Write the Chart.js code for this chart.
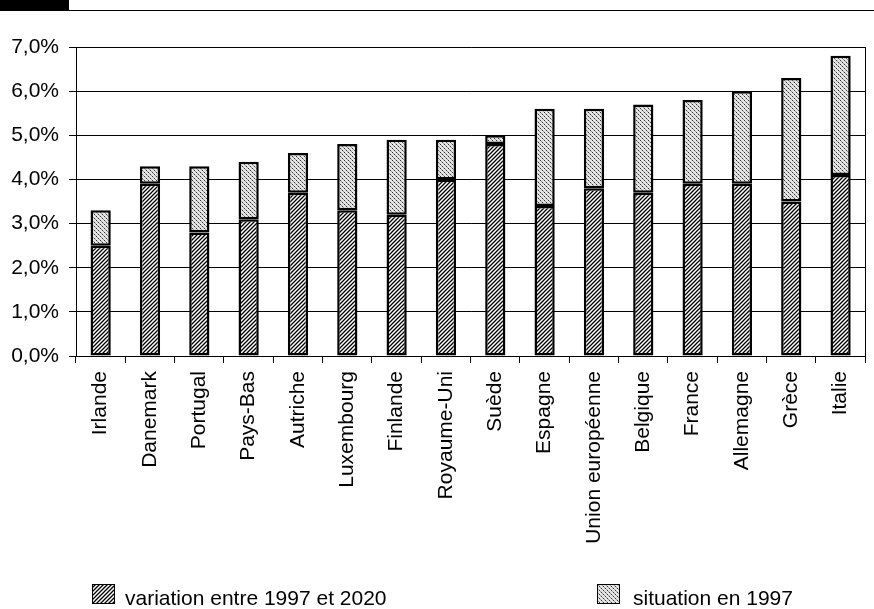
<!DOCTYPE html>
<html>
<head>
<meta charset="utf-8">
<script src="https://cdn.jsdelivr.net/npm/chart.js@4.4.1/dist/chart.umd.min.js"></script>
<style>
  body { margin: 0; background: #fff; font-family: "Liberation Sans", Arial, sans-serif; }
  #wrap { position: relative; width: 874px; height: 609px; }
  #block { position: absolute; left: 0; top: 0; width: 69px; height: 11px; background: #000; }
  #rule { position: absolute; left: 69px; top: 10px; width: 805px; height: 1px; background: #000; }
  .leg { position: absolute; top: 584px; font-size: 21px; line-height: 21px; color: #000; white-space: nowrap; }
  .leg canvas { position: absolute; left: 0; top: 0; }
  .leg span { position: absolute; top: 3px; }
</style>
</head>
<body>
<div id="wrap">
  <canvas id="chart" width="874" height="609"></canvas>
  <div id="block"></div>
  <div id="rule"></div>
  <div class="leg" style="left:92px"><canvas id="sw1" width="23" height="20"></canvas><span style="left:33px">variation entre 1997 et 2020</span></div>
  <div class="leg" style="left:597px"><canvas id="sw2" width="23" height="20"></canvas><span style="left:36px">situation en 1997</span></div>
</div>
<script>
const categories = ["Irlande", "Danemark", "Portugal", "Pays-Bas", "Autriche", "Luxembourg", "Finlande",
  "Royaume-Uni", "Suède", "Espagne", "Union européenne", "Belgique", "France", "Allemagne", "Grèce", "Italie"];
// partie basse (hachures obliques)
const variation = [2.5, 3.9, 2.8, 3.1, 3.7, 3.3, 3.2, 4.0, 4.8, 3.4, 3.8, 3.7, 3.9, 3.9, 3.5, 4.1];
// partie haute (trame grise)
const situation = [0.8, 0.4, 1.5, 1.3, 0.9, 1.5, 1.7, 0.9, 0.2, 2.2, 1.8, 2.0, 1.9, 2.1, 2.8, 2.7];
const yTicks = [0, 1, 2, 3, 4, 5, 6, 7];

const fontFamily = '"Liberation Sans", Arial, sans-serif';

// motif hachures "/"
function makeHatch() {
  const c = document.createElement("canvas");
  c.width = 4; c.height = 4;
  const g = c.getContext("2d");
  g.fillStyle = "#fff";
  g.fillRect(0, 0, 4, 4);
  g.strokeStyle = "#000";
  g.lineWidth = 1.3;
  g.beginPath();
  g.moveTo(-1, 5); g.lineTo(5, -1);
  g.moveTo(-1, 1); g.lineTo(1, -1);
  g.moveTo(3, 5); g.lineTo(5, 3);
  g.stroke();
  return c;
}

// motif trame "\" pointillée
function makeDots() {
  const c = document.createElement("canvas");
  c.width = 4; c.height = 4;
  const g = c.getContext("2d");
  g.fillStyle = "#e4e4e4";
  g.fillRect(0, 0, 4, 4);
  g.fillStyle = "#333";
  g.fillRect(0, 0, 1, 1);
  g.fillRect(2, 2, 1, 1);
  g.fillStyle = "#999";
  g.fillRect(1, 1, 1, 1);
  g.fillRect(3, 3, 1, 1);
  return c;
}

const ctx = document.getElementById("chart").getContext("2d");
const hatch = ctx.createPattern(makeHatch(), "repeat");
const dots = ctx.createPattern(makeDots(), "repeat");

function drawSwatch(id, tile) {
  const g = document.getElementById(id).getContext("2d");
  g.fillStyle = g.createPattern(tile, "repeat");
  g.fillRect(0, 0, 23, 20);
  g.strokeStyle = "#000";
  g.lineWidth = 1;
  g.strokeRect(0.5, 0.5, 22, 19);
}
drawSwatch("sw1", makeHatch());
drawSwatch("sw2", makeDots());

// bordure droite de la zone de tracé
const rightBorder = {
  id: "rightBorder",
  afterDraw(chart) {
    const a = chart.chartArea;
    const c = chart.ctx;
    c.save();
    c.strokeStyle = "#000";
    c.lineWidth = 1;
    c.beginPath();
    c.moveTo(Math.round(a.right) + 0.5, a.top);
    c.lineTo(Math.round(a.right) + 0.5, a.bottom);
    c.stroke();
    c.restore();
  }
};

new Chart(ctx, {
  type: "bar",
  data: {
    labels: categories,
    datasets: [
      {
        label: "variation entre 1997 et 2020",
        data: variation,
        backgroundColor: hatch,
        borderColor: "#000",
        borderWidth: 2.5,
        borderSkipped: false,
        barPercentage: 0.41,
        categoryPercentage: 1
      },
      {
        label: "situation en 1997",
        data: situation,
        backgroundColor: dots,
        borderColor: "#000",
        borderWidth: 2.5,
        borderSkipped: false,
        barPercentage: 0.41,
        categoryPercentage: 1
      }
    ]
  },
  options: {
    responsive: false,
    animation: false,
    layout: { padding: { top: 47, right: 7, left: 0, bottom: 0 } },
    plugins: {
      legend: { display: false },
      tooltip: { enabled: false }
    },
    scales: {
      x: {
        stacked: true,
        offset: true,
        grid: { display: true, drawOnChartArea: false, color: "#000", tickLength: 7, offset: true },
        border: { color: "#000", width: 1 },
        ticks: {
          color: "#000",
          font: { family: fontFamily, size: 21 },
          minRotation: 90,
          maxRotation: 90,
          autoSkip: false,
          padding: 8
        },
        afterFit(scale) { scale.height = 253; }
      },
      y: {
        stacked: true,
        min: 0,
        max: 7,
        afterBuildTicks(scale) { scale.ticks = yTicks.map(v => ({ value: v })); },
        grid: { color: "#000", lineWidth: 1, tickLength: 7 },
        border: { color: "#000", width: 1 },
        ticks: {
          color: "#000",
          font: { family: fontFamily, size: 21 },
          padding: 10,
          callback: v => v.toFixed(1).replace(".", ",") + "%"
        },
        afterFit(scale) { scale.width = 76; }
      }
    }
  },
  plugins: [rightBorder]
});
</script>
</body>
</html>
